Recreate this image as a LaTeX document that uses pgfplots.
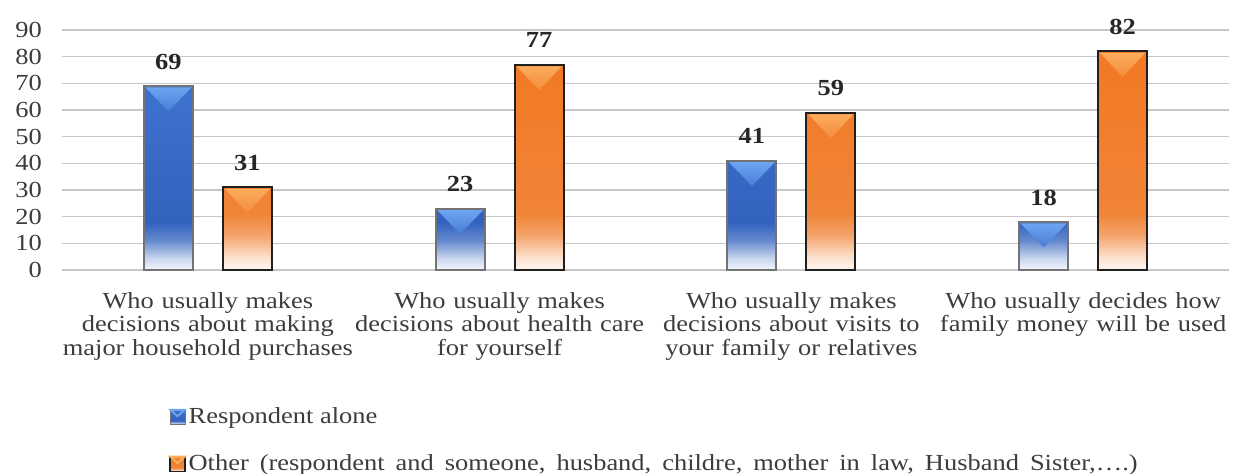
\documentclass[border=0pt]{standalone}
\usepackage{pgfplots}
\pgfplotsset{compat=1.18}
\usepackage{fontspec}
\setmainfont{Liberation Serif}[FakeStretch=1.15]
\usetikzlibrary{shapes.geometric}

\definecolor{txt}{RGB}{60,60,60}
\definecolor{bluetop}{RGB}{62,112,205}
\definecolor{bluemid}{RGB}{50,98,190}
\definecolor{orgtop}{RGB}{242,122,38}
\definecolor{orgmid}{RGB}{240,132,55}
\definecolor{bluetri}{RGB}{110,165,240}
\definecolor{bluetrib}{RGB}{72,124,214}
\definecolor{orgtri}{RGB}{250,172,92}
\definecolor{orgtrib}{RGB}{244,140,60}

\pgfdeclareverticalshading{blueshade}{100bp}{color(0bp)=(bluemid!6!white); color(25bp)=(bluemid!6!white); color(28bp)=(bluemid!25!white); color(33bp)=(bluemid!75!white); color(38bp)=(bluemid); color(70bp)=(bluetop); color(100bp)=(bluetop)}
\pgfdeclareverticalshading{orgshade}{100bp}{color(0bp)=(orgmid!6!white); color(25bp)=(orgmid!6!white); color(28bp)=(orgmid!25!white); color(33bp)=(orgmid!75!white); color(38bp)=(orgmid); color(70bp)=(orgtop); color(100bp)=(orgtop)}

\pgfplotstableread{
x y
0 69
1 23
2 41
3 18
}\alone
\pgfplotstableread{
x y
0 31
1 77
2 59
3 82
}\other

\begin{document}
\begin{tikzpicture}
\useasboundingbox (-31pt,-102pt) rectangle (586pt,135pt);
\begin{axis}[
  at={(0,0)}, anchor=south west, scale only axis,
  width=583.5pt, height=120pt,
  xmin=-0.5, xmax=3.5, ymin=0, ymax=90,
  xtick={0,1,2,3},
  xticklabels={{Who usually makes\\decisions about making\\major household purchases},
               {Who usually makes\\decisions about health care\\for yourself},
               {Who usually makes\\decisions about visits to\\your family or relatives},
               {Who usually decides how\\family money will be used}},
  ytick={0,10,...,90},
  ymajorgrids, grid style={draw=black!22, line width=0.7pt},
  axis line style={draw=none},
  major tick length=0pt,
  /pgf/number format/assume math mode=true,
  tick label style={font=\fontsize{11.5}{11.75}\selectfont, text=txt},
  yticklabel style={xshift=-6.5pt},
  xticklabel style={text width=170pt, align=center, yshift=-7.5pt},
  clip=false,
  legend cell align=left,
  legend style={at={(axis description cs:0.0917,-0.5583)}, anchor=north west,
    draw=none, fill=none, inner sep=0pt, row sep=11pt,
    font=\fontsize{11.5}{12}\selectfont, text=txt,
    nodes={inner sep=1.5pt}},
]
\addplot[ybar, bar width=24.5pt, bar shift=-19.75pt, draw=black!55, line width=0.9pt,
  shading=blueshade, shade,
  nodes near coords,
  nodes near coords style={font=\bfseries\fontsize{11.5}{12}\selectfont, text=black!85, yshift=4.6pt, xshift=-19.75pt},
  legend image code/.code={
    \draw[draw=black!55, line width=0.5pt, shading=blueshade, shade] (0pt,-3.75pt) rectangle (7.5pt,3.75pt);
    \fill[bluetri] (0.3pt,3.5pt) -- (7.2pt,3.5pt) -- (3.75pt,0.3pt) -- cycle;}
] table[x=x,y=y] {\alone};
\addlegendentry{Respondent alone}
\addplot[ybar, bar width=24.5pt, bar shift=19.75pt, draw=black!88, line width=1.1pt,
  shading=orgshade, shade,
  nodes near coords,
  nodes near coords style={font=\bfseries\fontsize{11.5}{12}\selectfont, text=black!85, yshift=4.6pt, xshift=19.75pt},
  legend image code/.code={
    \draw[draw=black!88, line width=0.6pt, shading=orgshade, shade] (0pt,-3.75pt) rectangle (7.5pt,3.75pt);
    \fill[orgtri] (0.3pt,3.5pt) -- (7.2pt,3.5pt) -- (3.75pt,0.3pt) -- cycle;}
] table[x=x,y=y] {\other};
\addlegendentry{{\spaceskip=5.5pt plus 1pt minus 0.5pt Other (respondent and someone, husband, childre, mother in law, Husband Sister,….)}}
% bevel triangles
\addplot[ybar, forget plot, bar width=24.5pt, bar shift=-19.75pt, draw=none, fill=none,
  nodes near coords={\mbox{}},
  nodes near coords style={shape=isosceles triangle, shape border rotate=-90,
    isosceles triangle stretches, minimum width=23pt, minimum height=12pt,
    inner sep=0pt, top color=bluetri, bottom color=bluetrib, draw=none,
    anchor=lower side, yshift=-0.5pt, xshift=-19.75pt}
] table[x=x,y=y] {\alone};
\addplot[ybar, forget plot, bar width=24.5pt, bar shift=19.75pt, draw=none, fill=none,
  nodes near coords={\mbox{}},
  nodes near coords style={shape=isosceles triangle, shape border rotate=-90,
    isosceles triangle stretches, minimum width=22.5pt, minimum height=12pt,
    inner sep=0pt, top color=orgtri, bottom color=orgtrib, draw=none,
    anchor=lower side, yshift=-0.6pt, xshift=19.75pt}
] table[x=x,y=y] {\other};
\end{axis}
\end{tikzpicture}
\end{document}
